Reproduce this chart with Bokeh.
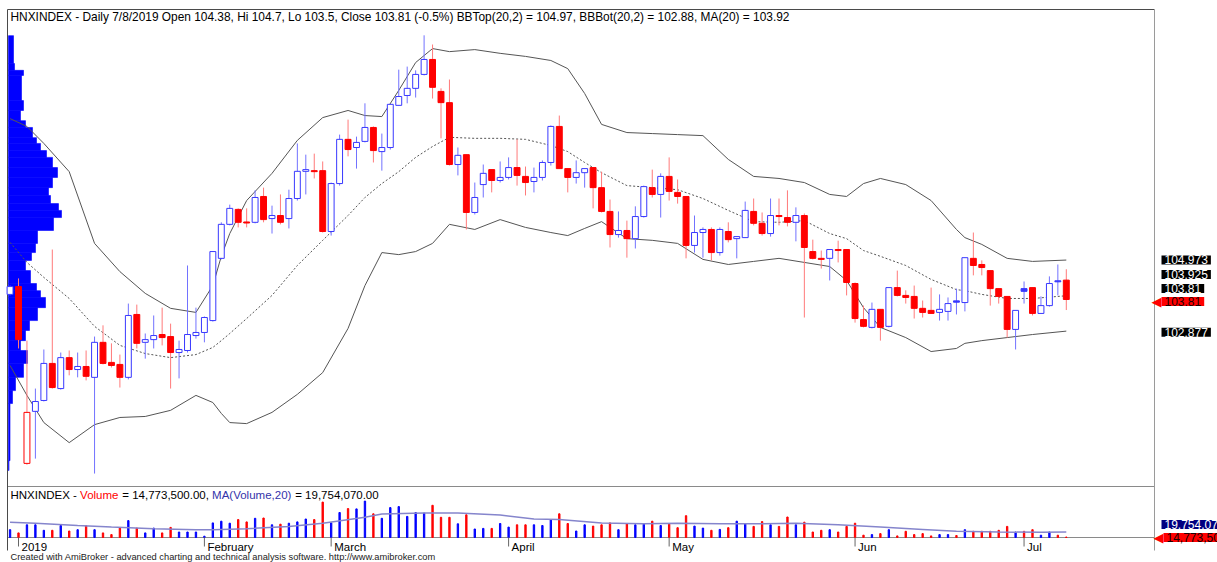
from bokeh.plotting import figure
from bokeh.models import Range1d, Label
from bokeh.embed import file_html
from bokeh.resources import INLINE

FONT = "Liberation Sans"

# ---------------- data ----------------
# trading-day index: -1 = 31 Dec 2018, 0 = 2 Jan 2019 ... 124 = 8 Jul 2019
bar_index = list(range(-1, 125))

opens = [103.96, 104.19, 98.99, 100.52, 100.84, 101.93, 101.19, 102.10, 101.75, 101.84,
         101.52, 102.55, 101.96, 101.90, 101.52, 103.37, 102.55, 102.63, 102.78, 102.72,
         102.25, 102.31, 102.75, 102.84, 103.19, 105.02, 106.02, 106.46, 106.09, 106.08,
         106.84, 106.19, 106.28, 106.19, 106.78, 107.58, 107.60, 107.60, 105.81, 107.22,
         108.52, 108.28, 108.46, 108.87, 108.16, 108.28, 109.52, 109.81, 110.02, 110.43,
         110.87, 109.93, 109.60, 107.78, 108.07, 106.37, 107.19, 107.63, 107.31, 107.40,
         107.69, 107.43, 107.28, 107.40, 107.84, 108.90, 107.66, 107.40, 107.54, 107.69,
         107.10, 106.40, 105.72, 105.84, 105.60, 106.25, 107.10, 106.90, 107.43, 106.96,
         106.84, 105.40, 105.78, 105.87, 105.19, 105.81, 105.60, 105.63, 106.40, 106.05,
         105.75, 106.28, 106.22, 106.08, 106.28, 105.22, 105.02, 105.02, 105.28, 105.28,
         104.28, 103.22, 102.99, 103.52, 103.02, 104.16, 103.93, 103.90, 103.55, 103.49,
         103.43, 103.46, 103.77, 103.72, 105.02, 104.84, 104.66, 104.13, 103.90, 102.93,
         104.13, 104.16, 103.40, 103.63, 104.36, 104.38]
highs = [104.22, 104.43, 102.60, 101.19, 102.34, 105.28, 102.25, 102.31, 102.25, 102.31,
         102.72, 103.05, 102.52, 102.19, 103.69, 103.66, 102.81, 103.34, 103.57, 103.10,
         102.60, 104.81, 103.57, 103.31, 105.22, 106.08, 106.60, 106.49, 106.49, 107.02,
         107.10, 106.57, 106.90, 107.04, 108.40, 108.07, 108.10, 107.87, 107.25, 108.66,
         109.10, 108.60, 109.58, 108.90, 108.69, 109.55, 110.57, 110.66, 110.55, 111.58,
         111.31, 110.02, 110.28, 108.28, 108.07, 107.25, 107.78, 107.63, 107.87, 107.99,
         108.52, 107.72, 107.69, 107.90, 108.93, 109.22, 107.66, 107.90, 107.66, 107.69,
         107.57, 106.75, 106.40, 106.13, 106.55, 107.16, 107.63, 107.52, 107.99, 107.34,
         106.84, 106.28, 105.93, 105.93, 105.93, 106.08, 105.66, 106.69, 106.78, 106.37,
         106.78, 106.78, 107.02, 106.52, 106.34, 105.57, 105.25, 105.28, 105.54, 105.28,
         104.31, 103.63, 103.72, 103.52, 104.16, 104.66, 104.08, 104.22, 103.78, 104.16,
         103.96, 103.87, 104.13, 105.04, 105.78, 104.96, 104.66, 104.13, 103.90, 103.49,
         104.34, 104.16, 103.90, 104.49, 104.84, 104.70]
lows = [103.93, 102.37, 98.95, 99.13, 100.81, 101.19, 101.16, 101.58, 101.52, 101.43,
        98.69, 101.90, 101.81, 101.22, 101.46, 102.37, 102.07, 102.37, 102.46, 101.19,
        101.49, 102.25, 102.66, 102.55, 103.16, 104.99, 105.99, 105.93, 105.93, 106.05,
        106.08, 105.75, 106.02, 105.90, 106.72, 106.90, 107.37, 105.78, 105.69, 107.16,
        108.02, 107.66, 108.43, 107.84, 107.60, 108.22, 109.52, 109.58, 109.75, 110.40,
        109.72, 108.55, 107.75, 107.46, 105.87, 106.31, 106.81, 106.96, 107.25, 107.34,
        107.16, 106.87, 106.96, 107.31, 107.75, 107.66, 106.96, 107.22, 107.10, 106.49,
        106.37, 105.34, 105.63, 105.04, 105.31, 106.22, 106.81, 106.22, 106.72, 106.63,
        105.02, 105.19, 105.04, 104.96, 105.10, 105.49, 105.02, 105.63, 105.99, 105.69,
        105.66, 105.99, 105.96, 105.52, 103.28, 104.99, 104.72, 104.37, 104.90, 103.93,
        103.13, 102.99, 102.96, 102.60, 102.99, 103.90, 103.69, 103.25, 103.28, 103.40,
        103.19, 103.19, 103.37, 103.46, 104.52, 104.52, 103.63, 103.69, 102.69, 102.34,
        103.69, 103.34, 103.40, 103.60, 103.93, 103.50]
closes = [104.19, 102.63, 100.49, 100.81, 101.93, 101.22, 102.10, 101.75, 101.84, 101.55,
          102.55, 101.93, 101.87, 101.52, 103.34, 102.52, 102.63, 102.75, 102.69, 102.25,
          102.34, 102.78, 102.84, 103.28, 105.22, 106.02, 106.49, 106.08, 106.06, 106.81,
          106.16, 106.28, 106.08, 106.78, 107.58, 107.63, 107.57, 105.81, 107.22, 108.52,
          108.22, 108.43, 108.87, 108.19, 108.28, 109.55, 109.78, 110.02, 110.43, 110.87,
          110.05, 109.60, 107.78, 108.05, 106.37, 106.81, 107.52, 107.31, 107.40, 107.69,
          107.46, 107.25, 107.40, 107.84, 108.90, 107.66, 107.40, 107.54, 107.66, 107.10,
          106.40, 105.72, 105.84, 105.60, 106.25, 107.13, 106.90, 107.43, 106.99, 106.84,
          105.40, 105.78, 105.87, 105.19, 105.87, 105.57, 105.66, 106.43, 106.05, 105.75,
          106.28, 106.25, 106.08, 106.28, 105.34, 105.02, 104.99, 105.28, 105.25, 104.31,
          103.25, 103.02, 103.52, 102.99, 104.16, 103.93, 103.87, 103.55, 103.43, 103.40,
          103.52, 103.69, 103.73, 105.04, 104.81, 104.75, 104.13, 103.90, 102.93, 103.49,
          104.05, 103.40, 103.63, 104.28, 104.33, 103.81]
# volume, millions of shares
volumes = [22.1, 18.9, 27.0, 27.0, 21.5, 21.5, 26.3, 20.8, 22.1, 26.0,
           22.1, 18.9, 17.2, 23.7, 31.2, 23.7, 18.9, 23.7, 18.9, 24.4,
           19.8, 19.8, 19.8, 15.6, 28.9, 30.6, 28.6, 32.2, 29.9, 33.5,
           33.8, 27.0, 27.6, 28.6, 29.9, 32.8, 32.2, 49.7, 28.9, 39.3,
           43.2, 42.9, 50.7, 38.0, 33.5, 44.2, 45.2, 35.4, 39.3, 38.7,
           46.5, 34.5, 34.5, 28.0, 37.0, 22.8, 23.4, 23.4, 28.3, 24.7,
           27.0, 27.0, 27.0, 26.3, 31.9, 38.0, 28.3, 20.8, 27.0, 25.7,
           27.0, 28.9, 22.1, 28.3, 27.0, 27.6, 30.6, 26.3, 27.6, 24.1,
           36.1, 25.7, 23.7, 21.5, 22.4, 24.1, 30.6, 28.0, 25.4, 30.2,
           27.0, 25.4, 34.8, 27.0, 29.6, 19.8, 21.5, 22.1, 19.8, 25.4,
           28.6, 16.6, 17.2, 18.2, 22.1, 15.9, 20.5, 17.2, 18.2, 15.9,
           17.2, 17.2, 16.3, 22.1, 20.5, 20.5, 20.5, 21.5, 25.4, 19.8,
           20.5, 22.1, 16.6, 19.8, 16.6, 14.7735]

# Bollinger bands (20,2) and MA(20), read at these bar indices
band_idx = [-1, 1, 3, 6, 9, 12, 15, 18, 21, 23, 24, 25, 27, 30, 33, 36, 39, 41, 43, 45,
            47, 49, 51, 54, 57, 60, 63, 65, 67, 69, 72, 75, 78, 81, 84, 87, 90, 93, 96, 98,
            100, 102, 105, 108, 111, 112, 114, 117, 120, 124]
bb_top = [109.13, 108.90, 108.40, 107.57, 105.46, 104.63, 103.99, 103.55, 103.43, 104.22,
          105.08, 105.75, 106.72, 107.52, 108.49, 109.16, 109.37, 109.22, 109.19, 109.96,
          110.78, 111.19, 111.10, 111.16, 111.05, 110.96, 110.84, 110.60, 109.87, 108.96,
          108.72, 108.69, 108.66, 108.63, 107.93, 107.43, 107.37, 107.25, 106.90, 106.84,
          107.22, 107.37, 107.19, 106.72, 105.87, 105.63, 105.43, 105.02, 104.93, 104.97]
bb_mid = [105.49, 104.90, 104.46, 103.84, 103.02, 102.46, 102.22, 102.10, 102.19, 102.40,
          102.60, 102.81, 103.25, 103.93, 104.81, 105.55, 106.28, 106.81, 107.22, 107.57,
          107.99, 108.31, 108.58, 108.55, 108.55, 108.52, 108.34, 108.16, 107.84, 107.54,
          107.16, 107.10, 107.04, 106.78, 106.43, 106.10, 106.08, 106.13, 105.75, 105.60,
          105.25, 105.08, 104.81, 104.40, 104.10, 104.07, 103.96, 103.84, 103.84, 103.92]
bb_bot = [101.87, 100.99, 100.19, 99.60, 100.13, 100.34, 100.37, 100.55, 100.99, 100.78,
          100.46, 100.19, 100.16, 100.49, 101.02, 101.66, 102.96, 104.22, 105.19, 105.13,
          105.22, 105.46, 106.02, 105.87, 106.16, 105.93, 105.78, 105.69, 105.90, 106.10,
          105.60, 105.55, 105.46, 104.99, 104.84, 104.93, 105.02, 104.90, 104.78, 104.37,
          103.57, 102.99, 102.69, 102.28, 102.37, 102.52, 102.60, 102.69, 102.78, 102.88]

# MA(Volume,20), millions, read at these bar indices
vol_ma_idx = [-1, 2, 7, 11, 16, 21, 23, 27, 32, 36, 41, 43, 48, 52, 57, 61, 64, 69, 74, 78,
              83, 88, 92, 97, 102, 107, 111, 116, 121, 124]
vol_ma = [29.6, 28.5, 26.3, 24.7, 23.1, 22.1, 22.1, 23.1, 25.4, 28.6, 34.5, 37.7, 38.7, 38.7,
          36.7, 32.8, 32.2, 28.8, 28.0, 28.6, 28.0, 28.0, 28.6, 27.0, 24.7, 22.4, 20.5, 19.8,
          19.5, 19.754]

# volume-at-price profile: price bin edges (top to bottom) and relative volume per bin
profile_edges = [111.57, 110.75, 110.55, 110.40, 109.66, 109.37, 109.07, 108.87, 108.57, 108.40,
                 108.19, 107.99, 107.69, 107.40, 107.10, 106.87, 106.63, 106.43, 106.22, 105.84,
                 105.46, 105.19, 104.96, 104.66, 104.28, 104.07, 103.87, 103.57, 103.19, 102.90,
                 102.60, 102.31, 101.93, 101.52, 101.13, 100.75, 99.07, 98.78]
profile_volume = [5, 6, 15, 13, 15, 12, 17, 24, 28, 32, 38, 44, 49, 44, 40, 42, 50, 53, 45, 29,
                  27, 23, 17, 22, 28, 32, 37, 29, 21, 17, 12, 19, 15, 7, 4, 1.5, 0.5]

month_idx = [0, 22, 37, 58, 77, 99, 119]
month_names = ["2019", "February", "March", "April", "May", "Jun", "Jul"]

title_text = ("HNXINDEX - Daily 7/8/2019 Open 104.38, Hi 104.7, Lo 103.5, Close 103.81 (-0.5%) "
              "BBTop(20,2) = 104.97, BBBot(20,2) = 102.88, MA(20) = 103.92")
# right-hand value tags: text, value, vertical nudge (px) to keep them from overlapping
last_values = [("104.973", 104.973, 0), ("103.925", 103.925, 21), ("103.81", 103.81, 11),
               ("102.877", 102.877, -1)]

# ---------------- styling derived from data ----------------
BLUE_LINE = "#3838ff"
BLUE_WICK = "#7272ff"
RED = "#ff0000"
RED_WICK = "#ff7a7a"

prev_close = [None] + closes[:-1]
up_day = [pc is None or c >= pc for c, pc in zip(closes, prev_close)]
rising = [c > o for o, c in zip(opens, closes)]
body_top = [max(o, c) for o, c in zip(opens, closes)]
body_bot = [min(o, c) for o, c in zip(opens, closes)]
wick_col = [BLUE_WICK if u else RED_WICK for u in up_day]
edge_col = [BLUE_LINE if u else RED for u in up_day]
fill_col = ["#ffffff" if r else (BLUE_LINE if u else RED) for r, u in zip(rising, up_day)]
vol_col = ["#0000ff" if c >= o else "#ff0000" for o, c in zip(opens, closes)]

# ---------------- one canvas-sized frame; panels laid out with ranges ----------------
W, H = 1217, 562
BAR_PX = 8.45          # pixels per trading day
X0_PX = 18             # pixel column of bar 0
PRICE_PX = 34.0        # pixels per index point
PRICE_TOP = 112.604    # index value at the top pixel row
VOL_FLOOR = 14.3       # volume at the bottom of the volume pane (millions)
VOL_BASE_PX = 537      # pixel row of the volume pane bottom

p = figure(width=W, height=H,
           x_range=Range1d(-X0_PX / BAR_PX, (W - X0_PX) / BAR_PX),
           y_range=Range1d(PRICE_TOP - H / PRICE_PX, PRICE_TOP),
           x_axis_location=None, y_axis_location=None, toolbar_location=None,
           output_backend="svg", min_border=0)
p.min_border_left = p.min_border_right = p.min_border_top = p.min_border_bottom = 0
p.outline_line_color = None
p.xgrid.visible = False
p.ygrid.visible = False
p.background_fill_color = "white"
p.border_fill_color = "white"
p.extra_x_ranges = {"profile": Range1d(-8, W - 8), "px_x": Range1d(0, W)}
p.extra_y_ranges = {"vol": Range1d(VOL_FLOOR - (H - VOL_BASE_PX), VOL_FLOOR + VOL_BASE_PX),
                    "px_y": Range1d(H, 0)}

# panel frames (furniture, in pixel space)
p.segment(x0=[7, 7, 7, 7, 1154], x1=[1154, 1154, 1154, 7, 1154],
          y0=[9, 486, 537, 9, 9], y1=[9, 486, 537, 550, 550],
          x_range_name="px_x", y_range_name="px_y",
          line_color=["#4a4a4a", "#8a8a8a", "#8a8a8a", "#4a4a4a", "#9a9a9a"], line_width=1)

# volume-at-price profile
p.quad(left=0, right=profile_volume, top=profile_edges[:-1], bottom=profile_edges[1:],
       x_range_name="profile", fill_color="#0000ff", line_color="#0000ff", line_width=0.6)
# bands
p.line(band_idx, bb_top, line_color="#555555", line_width=1)
p.line(band_idx, bb_bot, line_color="#555555", line_width=1)
p.line(band_idx, bb_mid, line_color="#555555", line_width=1, line_dash="2 2")
# candles
p.segment(x0=bar_index, x1=bar_index, y0=lows, y1=highs, line_color=wick_col, line_width=1)
p.vbar(x=bar_index, width=0.7, top=body_top, bottom=body_bot,
       fill_color=fill_col, line_color=edge_col, line_width=1)

# volume pane
p.vbar(x=bar_index, width=0.16, top=volumes, bottom=VOL_FLOOR, color=vol_col,
       y_range_name="vol")
p.line(vol_ma_idx, vol_ma, line_color="#8585cc", line_width=1.5, y_range_name="vol")

# month ticks
p.segment(x0=month_idx, x1=month_idx, y0=[537] * len(month_idx), y1=[546] * len(month_idx),
          y_range_name="px_y", line_color="#666666", line_width=1)


def sy(page_y):
    """screen-unit y (measured up from the frame bottom) for a page pixel row"""
    return H - page_y


p.add_layout(Label(x=10, y=sy(16), x_units="screen", y_units="screen", text=title_text,
                   text_font=FONT, text_font_size="11.9px", text_baseline="middle",
                   text_color="black"))

pad = dict(left=3, right=3, top=0, bottom=0)
for txt, val, off in last_values:
    p.add_layout(Label(x=1161, y=val, x_units="screen", y_units="data", y_offset=off,
                       text=txt, text_font=FONT, text_font_size="12px",
                       text_baseline="middle", text_color="white",
                       background_fill_color="black", padding=pad))
p.add_layout(Label(x=1161, y=closes[-1], x_units="screen", y_units="data", y_offset=-2,
                   text="103.81", text_font=FONT, text_font_size="12px",
                   text_baseline="middle", text_color="#200000",
                   background_fill_color="#ff0000", padding=pad))
p.add_layout(Label(x=1161, y=closes[-1], x_units="screen", y_units="data", y_offset=-2,
                   text="\u25c0", text_font="DejaVu Sans", text_font_size="13px",
                   text_align="right", text_baseline="middle", text_color="#ff0000"))

for mi, name in zip(month_idx, month_names):
    p.add_layout(Label(x=mi, y=sy(546), x_units="data", y_units="screen", x_offset=3,
                       text=name, text_font=FONT, text_font_size="11.5px",
                       text_baseline="middle", text_color="black"))

segments = [("HNXINDEX -", 10, "black"), ("Volume", 79.6, "#ff0000"),
            ("= 14,773,500.00,", 121.8, "black"), ("MA(Volume,20)", 211.6, "#3333aa"),
            ("= 19,754,070.00", 294.7, "black")]
for txt, xs, col in segments:
    p.add_layout(Label(x=xs, y=sy(494), x_units="screen", y_units="screen", text=txt,
                       text_font=FONT, text_font_size="11.5px", text_baseline="middle",
                       text_color=col))

p.add_layout(Label(x=10, y=sy(556), x_units="screen", y_units="screen",
                   text="Created with AmiBroker - advanced charting and technical analysis software. http://www.amibroker.com",
                   text_font=FONT, text_font_size="9.3px", text_baseline="middle",
                   text_color="#222222"))

p.add_layout(Label(x=1161, y=sy(524), x_units="screen", y_units="screen", text="19,754,070.00",
                   text_font=FONT, text_font_size="12px", text_baseline="middle",
                   text_color="white", background_fill_color="#000080", padding=pad))
p.add_layout(Label(x=1163, y=sy(537), x_units="screen", y_units="screen", text="14,773,500.00",
                   text_font=FONT, text_font_size="12px", text_baseline="middle",
                   text_color="#200000", background_fill_color="#ff0000", padding=pad))
p.add_layout(Label(x=1163, y=sy(537), x_units="screen", y_units="screen", text="\u25c0",
                   text_font="DejaVu Sans", text_font_size="13px", text_align="right",
                   text_baseline="middle", text_color="#ff0000"))

open("out.html", "w").write(file_html(p, INLINE, title="HNXINDEX"))
